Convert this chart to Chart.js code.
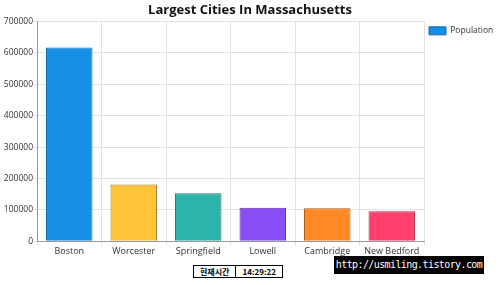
<!DOCTYPE html>
<html>
<head>
<meta charset="utf-8">
<script src="https://cdn.jsdelivr.net/npm/chart.js@4"></script>
<style>
    body { margin: 0; background: #fff; width: 500px; height: 285px; position: relative; overflow: hidden; }
    #wrap { position: absolute; left: 0; top: 0; width: 500px; height: 258px; }
    #clock { position: absolute; left: 193px; top: 265px; border: 1px solid #000; font: bold 8px "Noto Sans CJK KR", sans-serif; display: flex; }
    #clock span { padding: 0 6px; line-height: 11px; }
    #clock span + span { border-left: 1px solid #000; }
    #mark { position: absolute; left: 334px; top: 256px; width: 150px; height: 18px; background: #000; color: #fff;
            font: 10px "DejaVu Sans Mono", monospace; line-height: 18px; text-align: center; letter-spacing: -0.6px; }
</style>
</head>
<body>
<div id="wrap"><canvas id="myChart"></canvas></div>
<div id="clock"><span>현재시간</span><span>14:29:22</span></div>
<div id="mark">http://usmiling.tistory.com</div>
<script>
// Data
const CITIES = ['Boston', 'Worcester', 'Springfield', 'Lowell', 'Cambridge', 'New Bedford'];
const POPULATION = [617594, 181045, 153060, 106519, 105162, 95072];
const Y_TICKS = [0, 100000, 200000, 300000, 400000, 500000, 600000, 700000];

const FILLS = ['#168fe5', '#ffc63c', '#2cb3aa', '#8a4ef6', '#ff8a26', '#ff3f6c'];
const BORDERS = ['#1168a8', '#9a7420', '#1f7a73', '#5a2fa8', '#a85a18', '#a82a48'];
const FONT = '"Open Sans", sans-serif';

// keep the right legend column at a fixed width
const legendWidth = {
    id: 'legendWidth',
    beforeLayout(chart) {
        var lg = chart.legend;
        if (lg && !lg._patched) {
            var fit = lg.fit;
            lg.fit = function () { fit.call(this); this.width = 76; };
            lg._patched = true;
        }
    }
};

var ctx = document.getElementById('myChart');
var myChart = new Chart(ctx, {
    type: 'bar',
    data: {
        labels: CITIES,
        datasets: [{
            label: 'Population',
            backgroundColor: FILLS,
            borderColor: BORDERS,
            borderWidth: 1,
            data: POPULATION
        }]
    },
    plugins: [legendWidth],
    options: {
        responsive: true,
        maintainAspectRatio: false,
        animation: false,
        layout: { padding: { left: 0, right: 0, top: 0, bottom: 0 } },
        plugins: {
            title: {
                display: true,
                text: 'Largest Cities In Massachusetts',
                color: '#111',
                font: { family: FONT, size: 13, weight: 'bold' },
                padding: { top: 2, bottom: 4 }
            },
            legend: {
                position: 'right',
                align: 'start',
                fullSize: false,
                labels: {
                    boxWidth: 17,
                    boxHeight: 8,
                    color: '#333',
                    font: { family: FONT, size: 8.5 },
                    padding: 5
                }
            },
            tooltip: { enabled: false }
        },
        scales: {
            x: {
                grid: { color: '#e2e2e2', tickLength: 4, offset: true },
                border: { color: '#999' },
                ticks: { color: '#333', font: { family: FONT, size: 9 }, padding: 1 }
            },
            y: {
                min: 0,
                max: 700000,
                afterBuildTicks: (scale) => { scale.ticks = Y_TICKS.map((v) => ({ value: v })); },
                afterFit: (scale) => { scale.width = 37; },
                grid: { color: '#e2e2e2', tickLength: 4 },
                border: { color: '#999' },
                ticks: {
                    color: '#333',
                    font: { family: FONT, size: 8.5 },
                    padding: 0,
                    callback: (v) => String(v)
                }
            }
        }
    }
});
</script>
</body>
</html>
